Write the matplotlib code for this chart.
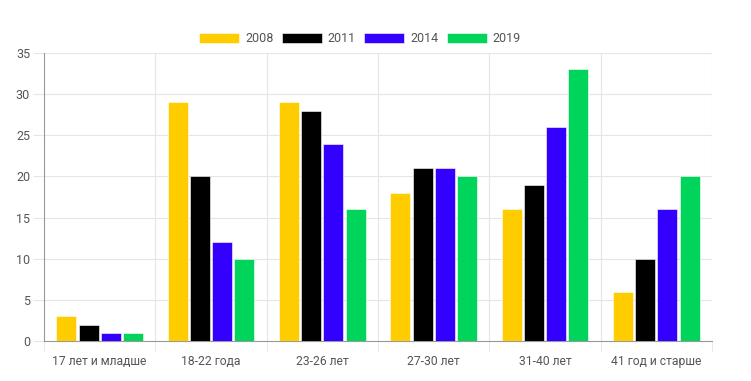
import numpy as np
import matplotlib.pyplot as plt

# ── Data ──────────────────────────────────────────────
categories = ["17 лет и младше", "18-22 года", "23-26 лет",
              "27-30 лет", "31-40 лет", "41 год и старше"]
years = ["2008", "2011", "2014", "2019"]
v2008 = [3, 29, 29, 18, 16, 6]
v2011 = [2, 20, 28, 21, 19, 10]
v2014 = [1, 12, 24, 21, 26, 16]
v2019 = [1, 10, 16, 20, 33, 20]
colors = ["#ffcc00", "#000000", "#3300ff", "#00d45a"]

plt.rcParams["font.family"] = ["Roboto", "DejaVu Sans"]
text_color = "#555555"
grid_color = "#e5e5e5"

fig = plt.figure(figsize=(7.51, 3.81), dpi=100)
W, H = 751, 381
ax = fig.add_axes([44 / W, (H - 341) / H, (712 - 44) / W, (341 - 53) / H])

x = np.arange(len(categories))
slot = 0.8 / 4
bar_w = slot * 0.9
series = [v2008, v2011, v2014, v2019]
for i, (vals, c, yr) in enumerate(zip(series, colors, years)):
    offs = (i - 1.5) * slot
    ax.bar(x + offs, vals, width=bar_w, color=c, label=yr,
           edgecolor="white", linewidth=0.4, zorder=3)

ax.set_xlim(-0.5, len(categories) - 0.5)
ax.set_ylim(0, 35)
ax.set_yticks(range(0, 36, 5))
ax.set_xticks(x)
ax.set_xticklabels(categories)

# grid lines between categories (Chart.js style)
ax.set_xticks(np.arange(-0.5, len(categories)), minor=True)
ax.grid(axis="x", which="minor", color=grid_color, linewidth=0.8, zorder=0)
ax.grid(axis="y", which="major", color=grid_color, linewidth=0.8, zorder=0)
ax.tick_params(axis="x", which="major", length=0, pad=10,
               labelsize=8.7, labelcolor=text_color)
ax.tick_params(axis="x", which="minor", length=8, color=grid_color)
ax.tick_params(axis="y", length=8, color=grid_color, pad=2,
               labelsize=9, labelcolor=text_color)

for side in ["top", "right"]:
    ax.spines[side].set_visible(False)
for side in ["left", "bottom"]:
    ax.spines[side].set_color("#999999")
    ax.spines[side].set_linewidth(0.8)

leg = ax.legend(loc="lower center", bbox_to_anchor=(0.473, 1.0), ncol=4,
                frameon=False, handlelength=3.2, handleheight=0.9,
                handletextpad=0.5, columnspacing=0.65, fontsize=9,
                borderaxespad=0.2)
for t in leg.get_texts():
    t.set_color(text_color)

fig.savefig("out.png", dpi=100)
